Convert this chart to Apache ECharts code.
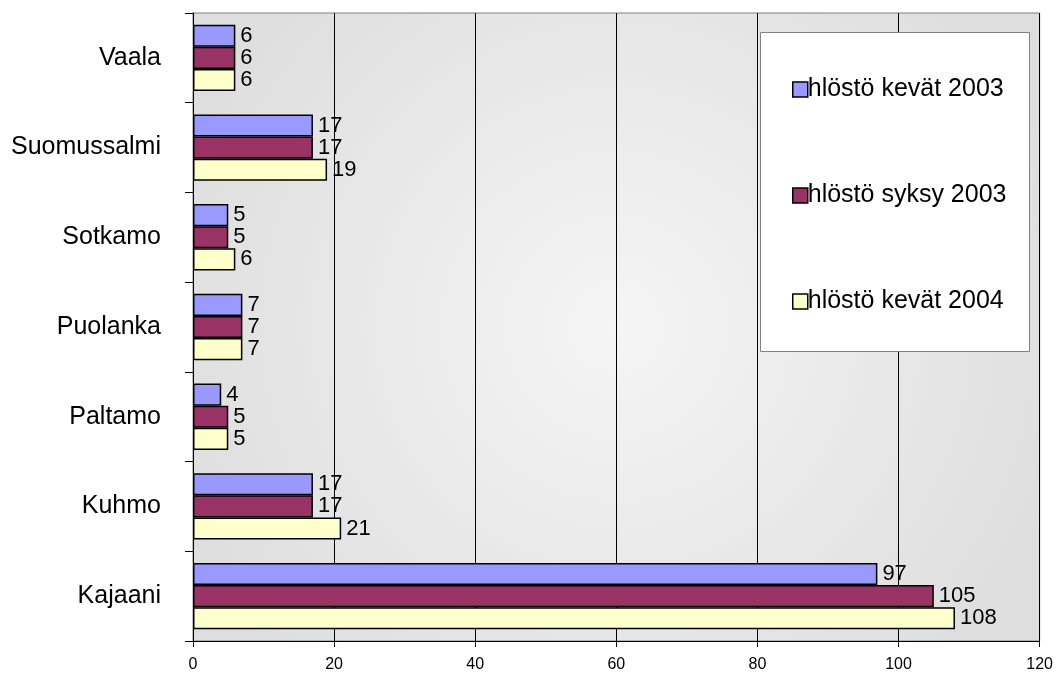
<!DOCTYPE html>
<html><head><meta charset="utf-8">
<script src="https://cdn.jsdelivr.net/npm/echarts@6/dist/echarts.min.js"></script>
<style>html,body{margin:0;padding:0;background:#fff}#c{width:1056px;height:673px}</style>
</head><body><div id="c"></div>
<script>
const categories = ['Kajaani','Kuhmo','Paltamo','Puolanka','Sotkamo','Suomussalmi','Vaala'];
const seriesNames = ['hlöstö kevät 2003','hlöstö syksy 2003','hlöstö kevät 2004'];
const kevat2003 = [97,17,4,7,5,17,6];
const syksy2003 = [105,17,5,7,5,17,6];
const kevat2004 = [108,21,5,7,6,19,6];
const xTicks = [0,20,40,60,80,100,120];
const colors = ['#9999FF','#993366','#FFFFCC'];
const values = [kevat2003, syksy2003, kevat2004];

const chart = echarts.init(document.getElementById('c'));
const font = 'Liberation Sans, Arial, sans-serif';
const series = values.map((v,i)=>({
  name: seriesNames[i], type:'bar', data:v, barGap:'0%', barCategoryGap:'26%',
  itemStyle:{color:colors[i], borderColor:'#000', borderWidth:1.5},
  label:{show:true, position:'right', distance:5, color:'#000', fontSize:22, fontFamily:font},
  emphasis:{disabled:true}
}));
chart.setOption({
  animation:false,
  backgroundColor:'#fff',
  grid:{left:193, right:16, top:13, bottom:32, show:true, borderColor:'#808080', borderWidth:1,
    backgroundColor:{type:'radial', x:0.5, y:0.5, r:0.75, colorStops:[{offset:0,color:'#f5f5f5'},{offset:1,color:'#dedede'}]}},
  legend:{show:true, orient:'vertical', left:787, top:72, itemGap:81, itemWidth:15, itemHeight:15, icon:'rect', z:10,
    data:seriesNames, textStyle:{fontSize:25, fontFamily:font, color:'#000', padding:[0,0,0,-5]},
    itemStyle:{borderColor:'#000', borderWidth:1.5}},
  graphic:[{type:'rect', z:5, shape:{x:760.5, y:32.5, width:269, height:319}, style:{fill:'#fff', stroke:'#808080', lineWidth:1}}],
  xAxis:{type:'value', min:0, max:120, interval:20,
    axisLine:{show:true, lineStyle:{color:'#000'}},
    axisTick:{show:true, length:6, inside:false, lineStyle:{color:'#000'}},
    axisLabel:{fontSize:16, fontFamily:font, color:'#000', margin:16,
      formatter:v=>xTicks.includes(v)?String(v):''},
    splitLine:{show:true, lineStyle:{color:'#000', width:1}}},
  yAxis:{type:'category', data:categories,
    axisLine:{show:true, lineStyle:{color:'#000'}},
    axisTick:{show:true, length:8, lineStyle:{color:'#000'}},
    axisLabel:{fontSize:25, fontFamily:font, color:'#000', margin:32}},
  series: series
});
</script></body></html>
